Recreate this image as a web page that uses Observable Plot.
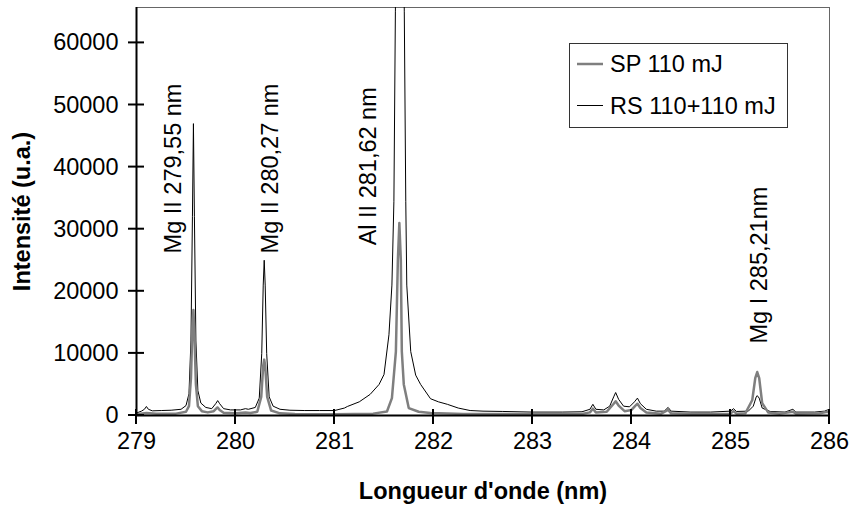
<!DOCTYPE html>
<html>
<head>
<meta charset="utf-8">
<script src="https://cdn.jsdelivr.net/npm/d3@7"></script>
<script src="https://cdn.jsdelivr.net/npm/@observablehq/plot@0.6"></script>
<style>
  html, body { margin: 0; padding: 0; background: #fff; }
  #chart svg { display: block; }
</style>
</head>
<body>
<div id="chart"></div>
<script>
// ---- data ----
const xTicks = [279, 280, 281, 282, 283, 284, 285, 286];
const yTicks = [0, 10000, 20000, 30000, 40000, 50000, 60000];
const seriesNames = ["SP 110 mJ", "RS 110+110 mJ"];
const xTitle = "Longueur d'onde (nm)";
const yTitle = "Intensité (u.a.)";

// RS 110+110 mJ (black, thin)
const rsX = [279.00,279.05,279.08,279.10,279.12,279.16,279.25,279.35,279.45,279.50,279.53,279.55,279.565,279.575,279.585,279.60,279.62,279.65,279.70,279.76,279.80,279.82,279.84,279.88,279.95,280.05,280.10,280.13,280.20,280.24,280.265,280.28,280.29,280.30,280.315,280.34,280.38,280.45,280.55,280.70,280.85,281.00,281.10,281.13,281.25,281.36,281.45,281.50,281.55,281.58,281.60,281.615,281.66,281.705,281.72,281.73,281.77,281.82,281.87,281.97,282.05,282.14,282.25,282.37,282.50,282.70,283.00,283.30,283.50,283.58,283.61,283.64,283.72,283.78,283.82,283.84,283.87,283.92,283.98,284.03,284.06,284.09,284.15,284.25,284.33,284.37,284.40,284.60,284.80,285.00,285.03,285.06,285.18,285.23,285.26,285.27,285.29,285.32,285.40,285.55,285.63,285.66,285.85,285.95,285.98,286.00];
const rsY = [400,700,1000,1450,1000,750,800,850,1000,1600,3500,12000,32000,47000,32000,12000,4000,2000,1300,1100,1900,2400,1900,1100,900,900,1100,1000,1300,2800,10000,21000,25000,21000,10000,3000,1500,1000,850,800,800,800,1200,1450,2200,3400,5000,6600,13000,21000,34500,65000,130000,65000,34500,21000,10300,6500,5000,2700,2200,1800,1200,800,700,650,550,550,600,1000,1800,1000,900,1500,3000,3700,2600,1500,1400,2200,2800,1900,1000,700,700,1300,700,550,550,700,1100,650,700,1500,3000,3200,2800,1200,650,550,1000,550,550,700,900,700];

// SP 110 mJ (grey, thick)
const spX = [279.00,279.10,279.20,279.40,279.50,279.53,279.55,279.565,279.575,279.585,279.60,279.62,279.66,279.72,279.78,279.81,279.82,279.84,279.88,280.00,280.10,280.15,280.22,280.26,280.28,280.29,280.30,280.32,280.36,280.45,280.60,281.00,281.20,281.39,281.53,281.58,281.62,281.64,281.655,281.67,281.68,281.70,281.75,281.85,281.97,282.30,283.00,283.50,283.58,283.61,283.64,283.75,283.82,283.84,283.87,283.93,284.00,284.04,284.06,284.09,284.15,284.30,284.37,284.40,284.70,285.00,285.03,285.06,285.15,285.22,285.25,285.27,285.29,285.32,285.38,285.50,285.63,285.66,285.90,285.98,286.00];
const spY = [200,400,300,300,600,1500,6000,14000,17000,13000,5000,1500,700,500,700,1200,1300,900,450,350,500,400,600,3000,8000,9000,8000,3000,800,350,250,200,250,300,650,2800,10300,25000,31000,25000,10300,5000,1200,600,400,250,250,250,500,1100,500,600,1900,2300,1600,700,900,1600,1900,1200,500,300,900,350,250,300,700,300,350,2500,6000,7000,6000,2000,500,300,600,300,350,600,400];

// peak annotations
const labelText = ["Mg II 279,55 nm", "Mg II 280,27 nm", "Al II 281,62 nm", "Mg I 285,21nm"];
const labelX = [279.374, 280.354, 281.343, 285.293];
const labelY = [26100, 26100, 27400, 11600];

// ---- build tables ----
const rs = rsX.map((x, i) => ({x, y: rsY[i]}));
const sp = spX.map((x, i) => ({x, y: spY[i]}));
const labels = labelText.map((t, i) => ({t, x: labelX[i], y: labelY[i]}));

const FONT = "'Liberation Sans', Arial, Helvetica, sans-serif";
const FS = 23.5;

const plot = Plot.plot({
  width: 851,
  height: 506,
  marginLeft: 136,
  marginRight: 22,
  marginTop: 7,
  marginBottom: 91,
  style: {fontFamily: FONT, fontSize: FS + "px", color: "#000", background: "#fff"},
  x: {domain: [279, 286]},
  y: {domain: [0, 65700]},
  marks: [
    Plot.frame({stroke: "#666", strokeWidth: 1}),
    Plot.line(rs, {x: "x", y: "y", stroke: "#000", strokeWidth: 1, clip: true}),
    Plot.line(sp, {x: "x", y: "y", stroke: "#7f7f7f", strokeWidth: 2.5, clip: true}),
    Plot.ruleX([279], {stroke: "#000", strokeWidth: 2}),
    Plot.ruleY([0], {stroke: "#000", strokeWidth: 2}),
    // tick labels
    Plot.axisX({ticks: xTicks, tickSize: 0, tickPadding: 17, fontSize: FS, tickFormat: d => String(d), label: null}),
    Plot.axisY({ticks: yTicks, tickSize: 0, tickPadding: 18, fontSize: FS, tickFormat: d => String(d), label: null}),
    // axis titles
    Plot.text([xTitle], {frameAnchor: "bottom", dy: 76, lineAnchor: "middle", textAnchor: "middle", fontSize: FS, fontWeight: "bold", text: d => d}),
    Plot.text([yTitle], {frameAnchor: "left", dx: -114, rotate: -90, textAnchor: "middle", lineAnchor: "middle", fontSize: FS, fontWeight: "bold", text: d => d}),
    // peak labels
    Plot.text(labels, {x: "x", y: "y", text: "t", rotate: -90, textAnchor: "start", lineAnchor: "middle", fontSize: FS, fill: "#000"})
  ]
});

const sx = plot.scale("x"), sy = plot.scale("y");
const svg = d3.select(plot);

// crossing tick marks, positioned with the plot's own scales
const tg = svg.append("g").attr("stroke", "#000").attr("stroke-width", 2);
const y0 = sy.apply(0), x0 = sx.apply(279);
xTicks.forEach(v => {
  const px = sx.apply(v);
  tg.append("line").attr("x1", px).attr("x2", px).attr("y1", y0 - 6).attr("y2", y0 + 9);
});
yTicks.forEach(v => {
  const py = sy.apply(v);
  tg.append("line").attr("x1", x0 - 8).attr("x2", x0 + 8).attr("y1", py).attr("y2", py);
});

// legend
const lg = svg.append("g").attr("font-family", FONT).attr("font-size", FS).attr("text-anchor", "start");
lg.append("rect").attr("x", 569.5).attr("y", 43.5).attr("width", 218).attr("height", 84)
  .attr("fill", "#fff").attr("stroke", "#333").attr("stroke-width", 1);
const legendStyles = [{stroke: "#7f7f7f", w: 2.5, cy: 64}, {stroke: "#000", w: 1, cy: 105.5}];
seriesNames.forEach((name, i) => {
  const cy = legendStyles[i].cy;
  lg.append("line").attr("x1", 577).attr("x2", 603).attr("y1", cy).attr("y2", cy)
    .attr("stroke", legendStyles[i].stroke).attr("stroke-width", legendStyles[i].w);
  lg.append("text").attr("x", 610).attr("y", cy).attr("dy", "0.35em").attr("fill", "#000")
    .attr("text-anchor", "start").text(name);
});

document.getElementById("chart").appendChild(plot);
</script>
</body>
</html>
